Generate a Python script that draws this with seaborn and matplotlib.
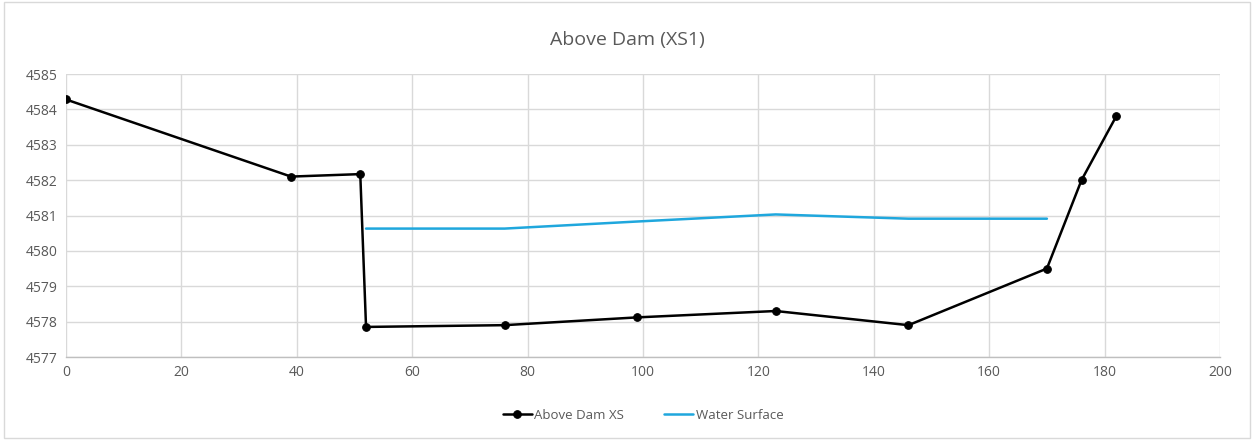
import matplotlib
matplotlib.use("Agg")
import matplotlib.pyplot as plt
import seaborn as sns
import pandas as pd

# Data
xs_station = [0, 39, 51, 52, 76, 99, 123, 146, 170, 176, 182]
xs_elev = [4584.28, 4582.1, 4582.17, 4577.85, 4577.9, 4578.12, 4578.3, 4577.9, 4579.5, 4582.0, 4583.8]
ws_station = [52, 76, 99, 123, 146, 170]
ws_elev = [4580.63, 4580.63, 4580.83, 4581.03, 4580.91, 4580.91]
x_ticks = [0, 20, 40, 60, 80, 100, 120, 140, 160, 180, 200]
y_ticks = [4577, 4578, 4579, 4580, 4581, 4582, 4583, 4584, 4585]
title = "Above Dam (XS1)"
series_names = ["Above Dam XS", "Water Surface"]

sns.set_theme(style="white")
plt.rcParams['font.family'] = ['Open Sans', 'DejaVu Sans']

fig = plt.figure(figsize=(12.54, 4.4), dpi=100)
ax = fig.add_axes([66/1254, 1-357/440, (1220-66)/1254, (357-74)/440])

df_xs = pd.DataFrame({"x": xs_station, "y": xs_elev})
df_ws = pd.DataFrame({"x": ws_station, "y": ws_elev})

sns.lineplot(data=df_xs, x="x", y="y", sort=False, ax=ax, color="black", lw=1.8,
             marker="o", markersize=5.5, markeredgecolor="black", label=series_names[0], zorder=3)
sns.lineplot(data=df_ws, x="x", y="y", sort=False, ax=ax, color="#1fa7dd", lw=1.8,
             label=series_names[1], zorder=2)

ax.set_xlim(0, 200)
ax.set_ylim(4577, 4585)
ax.set_xticks(x_ticks)
ax.set_yticks(y_ticks)
ax.set_xlabel("")
ax.set_ylabel("")
ax.grid(True, color="#d9d9d9", lw=1)
for s in ["top", "right", "left"]:
    ax.spines[s].set_visible(False)
ax.spines["bottom"].set_color("#bfbfbf")
ax.spines["bottom"].set_linewidth(1)
ax.tick_params(axis="both", length=0, colors="#595959", labelsize=10, pad=6)

fig.text(0.5, 1-40/440, title, ha="center", va="center", fontsize=14, color="#595959")

leg = ax.legend(loc="center", bbox_to_anchor=(0.5, (357-415)/(357-74)), ncol=2, frameon=False,
                fontsize=9.5, handlelength=2.2, handletextpad=0.2, columnspacing=3,
                labelcolor="#595959")

# outer border
fig.patches.append(plt.Rectangle((0.003, 0.005), 0.994, 0.99, transform=fig.transFigure,
                                 fill=False, edgecolor="#d9d9d9", lw=1))

fig.savefig("out.png", dpi=100)
